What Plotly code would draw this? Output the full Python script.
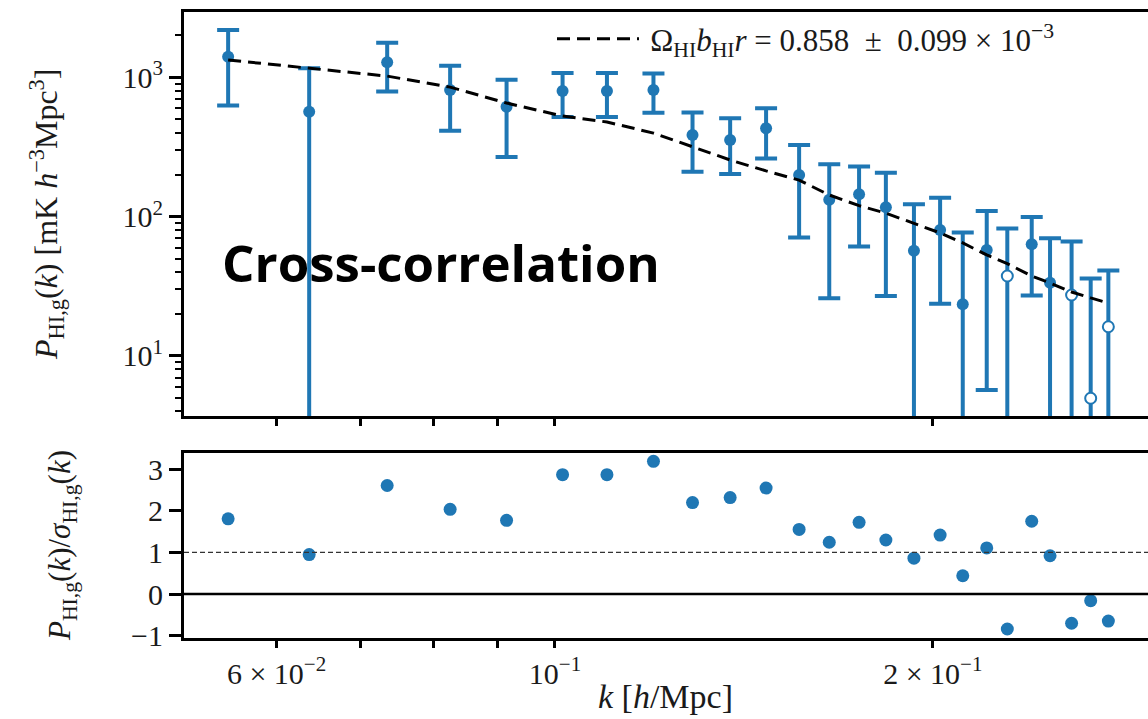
import numpy as np
import plotly.graph_objects as go

# Wavenumber bins [h/Mpc]
k = [0.0549, 0.0637, 0.0735, 0.0825, 0.0915, 0.1014, 0.1100, 0.1198, 0.1287,
     0.1379, 0.1473, 0.1565, 0.1654, 0.1747, 0.1835, 0.1932, 0.2027, 0.2113,
     0.2208, 0.2293, 0.2398, 0.2480, 0.2580, 0.2672, 0.2760]

# Measured HI-galaxy cross power spectrum [mK h^-3 Mpc^3] (signed)
p_cross = [1406, 566, 1282, 811, 615, 798, 798, 811, 385, 355, 431, 199, 132,
           145, 117, 57.0, 80.2, 23.5, 57.7, -37.5, 63.4, 33.6, -27.4, -4.97, -16.2]

# 1-sigma uncertainties
sigma = [777, 596, 491, 398, 347, 278, 278, 254, 175, 153, 169, 128, 106,
         84, 90, 66, 56.5, 53.4, 52, 44.6, 36.2, 36.5, 39, 31, 24.9]

# Best-fit model, Omega_HI b_HI r = 0.858e-3
p_model = [1331, 1166, 1021, 851, 654, 528, 478, 398, 316, 255, 213, 183, 143,
           120, 106, 89.5, 76.4, 64.8, 53.1, 46.0, 37.5, 33.4, 28.8, 26.1, 24.0]

fit_label = ("\u2009Ω<sub>HI</sub><i>b</i><sub>HI</sub><i>r</i> = 0.858  ±  0.099 × 10<sup>−3</sup>")

k_arr = np.array(k)
p_arr = np.array(p_cross)
s_arr = np.array(sigma)
pos = p_arr > 0
neg = ~pos
ratio = p_arr / s_arr

BLUE = "#1f77b4"
SERIF = "Liberation Serif"
TXT = "#1a1a1a"

W, H, L = 1148, 719, 184
PW = W - L


def px(xp):
    return (xp - L) / PW


def py(yp):
    return 1 - yp / H


fig = go.Figure()

# Positive measurements (filled)
fig.add_trace(go.Scatter(
    x=k_arr[pos], y=p_arr[pos], mode="markers",
    marker=dict(color=BLUE, size=12),
    error_y=dict(type="data", array=s_arr[pos], color=BLUE, thickness=4, width=11),
    showlegend=False, xaxis="x", yaxis="y"))

# Negative measurements, shown by magnitude (open)
fig.add_trace(go.Scatter(
    x=k_arr[neg], y=-p_arr[neg], mode="markers",
    marker=dict(color="white", size=11, line=dict(color=BLUE, width=2)),
    error_y=dict(type="data", array=s_arr[neg], color=BLUE, thickness=4, width=11),
    showlegend=False, xaxis="x", yaxis="y"))

# Model curve
fig.add_trace(go.Scatter(
    x=k, y=p_model, mode="lines", name=fit_label,
    line=dict(color="black", width=3, dash="13px,7px"),
    xaxis="x", yaxis="y"))

# Detection significance
fig.add_trace(go.Scatter(
    x=k, y=ratio, mode="markers",
    marker=dict(color=BLUE, size=13),
    showlegend=False, xaxis="x2", yaxis="y2"))

x_range = [-1.2956, -0.5275]
x_ticks = [0.06, 0.07, 0.08, 0.09, 0.1, 0.2, 0.3]
x_text = ["6 × 10<sup>−2</sup>", "", "", "", "10<sup>−1</sup>", "2 × 10<sup>−1</sup>", ""]

minor_y = [m * 10 ** e for e in range(0, 4) for m in range(2, 10)]

axis_common = dict(showline=True, linecolor="black", linewidth=3, ticks="outside",
                   tickcolor="black", showgrid=False, zeroline=False)
tick_font = dict(family=SERIF, size=30, color=TXT)

fig.update_layout(
    width=W, height=H,
    margin=dict(l=L, r=0, t=0, b=0, autoexpand=False),
    paper_bgcolor="white", plot_bgcolor="white",
    font=dict(family=SERIF, color=TXT, size=28),
    xaxis=dict(type="log", range=x_range, domain=[0, 1], anchor="y", mirror=True,
               tickvals=x_ticks, ticktext=x_text, showticklabels=False,
               ticklen=7, tickwidth=2.5, **axis_common),
    yaxis=dict(type="log", range=[0.569, 3.469], domain=[0.4214, 0.9833], anchor="x",
               tickvals=[10, 100, 1000],
               ticktext=["10<sup>1</sup>", "10<sup>2</sup>", "10<sup>3</sup>"],
               ticklen=12, tickwidth=2.5, tickfont=tick_font,
               minor=dict(tickvals=minor_y, ticks="outside", ticklen=6, tickwidth=1.5,
                          tickcolor="black", showgrid=False),
               **axis_common),
    xaxis2=dict(type="log", range=x_range, domain=[0, 1], anchor="y2", mirror=True,
                tickvals=x_ticks, ticktext=x_text, ticklen=7, tickwidth=2.5,
                tickfont=tick_font, **axis_common),
    yaxis2=dict(range=[-1.05, 3.385], domain=[0.1131, 0.3695], anchor="x2",
                tickvals=[-1, 0, 1, 2, 3], ticktext=["−1", "0", "1", "2", "3"],
                ticklen=12, tickwidth=2.5, tickfont=tick_font, **axis_common),
    legend=dict(x=px(552), y=py(39), xanchor="left", yanchor="middle",
                bgcolor="rgba(255,255,255,0)", itemwidth=82,
                font=dict(family=SERIF, size=31, color=TXT)),
    shapes=[
        dict(type="line", xref="x2 domain", yref="y2", x0=0, x1=1, y0=1, y1=1,
             line=dict(color="#333", width=1.2, dash="5px,3px")),
        dict(type="line", xref="x2 domain", yref="y2", x0=0, x1=1, y0=0, y1=0,
             line=dict(color="black", width=2.5)),
    ],
    annotations=[
        dict(text="<b>Cross-correlation</b>", x=px(441), y=py(262),
             xref="paper", yref="paper", xanchor="center", yanchor="middle",
             showarrow=False,
             font=dict(family="Open Sans", size=51, color="black")),
        dict(text="<i>P</i><sub>HI,g</sub>(<i>k</i>) [mK <i>h</i><sup>−3</sup>Mpc<sup>3</sup>]",
             xref="paper", yref="paper", x=px(46), y=py(215),
             xanchor="center", yanchor="middle",
             textangle=-90, showarrow=False, font=dict(size=32)),
        dict(text="<i>P</i><sub>HI,g</sub>(<i>k</i>)/<i>σ</i><sub>HI,g</sub>(<i>k</i>)",
             xref="paper", yref="paper", x=px(62), y=py(546),
             xanchor="center", yanchor="middle",
             textangle=-90, showarrow=False, font=dict(size=31)),
        dict(text="<i>k</i> [<i>h</i>/Mpc]", xref="paper", yref="paper",
             x=px(665), y=py(696), xanchor="center", yanchor="middle",
             showarrow=False, font=dict(size=34)),
    ],
)

fig.write_html("out.html")
